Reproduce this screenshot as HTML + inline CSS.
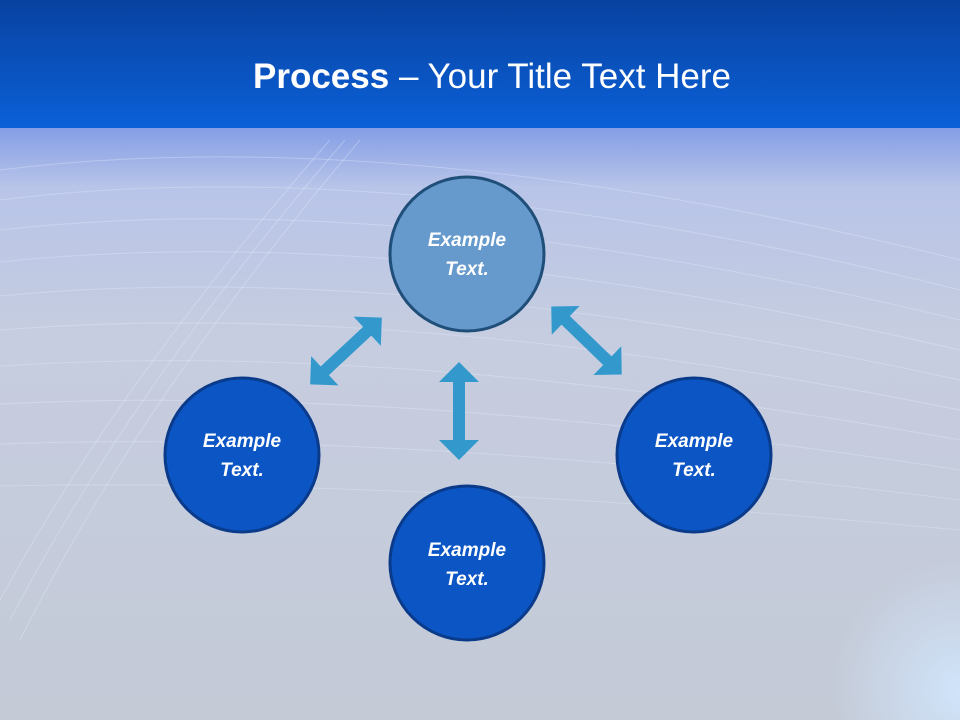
<!DOCTYPE html>
<html><head><meta charset="utf-8"><style>
html,body{margin:0;padding:0;width:960px;height:720px;overflow:hidden}
svg{display:block}
text{font-family:"Liberation Sans",sans-serif}
</style></head><body>
<svg width="960" height="720" viewBox="0 0 960 720" xmlns="http://www.w3.org/2000/svg">
<defs>
<linearGradient id="hd" x1="0" y1="0" x2="0" y2="1">
<stop offset="0" stop-color="#0842a0"/><stop offset="1" stop-color="#0b60d8"/>
</linearGradient>
<linearGradient id="bg" x1="0" y1="0" x2="0" y2="1">
<stop offset="0" stop-color="#849ee6"/><stop offset="0.1" stop-color="#b8c4e8"/><stop offset="0.35" stop-color="#c6cde0"/><stop offset="1" stop-color="#c4cad6"/>
</linearGradient>
<radialGradient id="glow" cx="960" cy="690" r="130" gradientUnits="userSpaceOnUse">
<stop offset="0" stop-color="#d0e4fa"/><stop offset="1" stop-color="#d0e4fa" stop-opacity="0"/>
</radialGradient>
<polygon id="arr" points="-49,0 -29,-20 -29,-6 29,-6 29,-20 49,0 29,20 29,6 -29,6 -29,20" fill="#3399cc"/>
</defs>
<rect x="0" y="128" width="960" height="592" fill="url(#bg)"/>
<rect x="0" y="128" width="960" height="592" fill="url(#glow)"/>
<g fill="none" stroke="#e6eeff" stroke-opacity="0.35" stroke-width="1">
<path d="M0,170 Q400,120 960,260"/><path d="M0,200 Q400,150 960,290"/><path d="M0,230 Q400,185 960,320"/>
<path d="M0,262 Q400,220 960,350"/><path d="M0,296 Q400,258 960,380"/><path d="M0,330 Q400,298 960,410"/>
<path d="M0,366 Q400,340 960,440"/><path d="M0,404 Q400,384 960,470"/><path d="M0,444 Q400,430 960,500"/>
<path d="M0,486 Q400,478 960,530"/>
<path d="M0,600 Q120,380 330,140"/><path d="M10,620 Q130,390 345,140"/><path d="M20,640 Q140,400 360,140"/>
</g>
<rect x="0" y="0" width="960" height="128" fill="url(#hd)"/>
<text x="492" y="88" text-anchor="middle" fill="#fff" font-size="35"><tspan font-weight="bold">Process</tspan> – Your Title Text Here</text>

<use href="#arr" transform="translate(459,411) rotate(90)"/>
<use href="#arr" transform="translate(346,351) rotate(-43)"/>
<use href="#arr" transform="translate(586.5,340.5) rotate(44)"/>

<circle cx="467" cy="254" r="77" fill="#6699cc" stroke="#1f4e79" stroke-width="3"/>
<circle cx="242" cy="455" r="77" fill="#0b55c5" stroke="#0a3a8a" stroke-width="3"/>
<circle cx="694" cy="455" r="77" fill="#0b55c5" stroke="#0a3a8a" stroke-width="3"/>
<circle cx="467" cy="563" r="77" fill="#0b55c5" stroke="#0a3a8a" stroke-width="3"/>
<g fill="#fff" font-size="19" font-weight="bold" font-style="italic" text-anchor="middle">
<text x="467" y="246">Example</text><text x="467" y="275">Text.</text>
<text x="242" y="447">Example</text><text x="242" y="476">Text.</text>
<text x="694" y="447">Example</text><text x="694" y="476">Text.</text>
<text x="467" y="556">Example</text><text x="467" y="585">Text.</text>
</g>
</svg>
</body></html>
